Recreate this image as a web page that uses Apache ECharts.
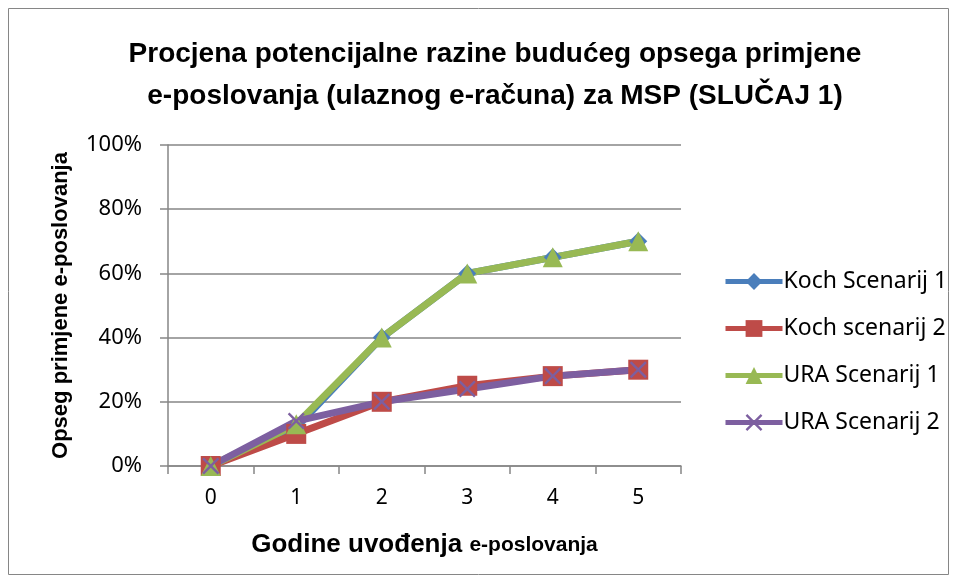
<!DOCTYPE html>
<html>
<head>
<meta charset="utf-8">
<script src="https://cdn.jsdelivr.net/npm/echarts@6/dist/echarts.min.js"></script>
<style>
html,body{margin:0;padding:0;background:#fff;}
#chart{width:956px;height:581px;}
</style>
</head>
<body>
<div id="chart"></div>
<script>
// Years since introduction of e-business
const years = ['0', '1', '2', '3', '4', '5'];
// Estimated share of e-business adoption (%)
const kochScenarij1 = [0, 12, 40, 60, 65, 70];
const kochScenarij2 = [0, 10, 20, 25, 28, 30];
const uraScenarij1 = [0, 13, 40, 60, 65, 70];
const uraScenarij2 = [0, 14, 20, 24, 28, 30];
const seriesNames = ['Koch Scenarij 1', 'Koch scenarij 2', 'URA Scenarij 1', 'URA Scenarij 2'];
const yTicks = [0, 20, 40, 60, 80, 100];

const colors = ['#4a7ebb', '#be4b48', '#98b954', '#7d5fa0'];
const crossPath = 'path://M0,2 L2,0 L10,8 L18,0 L20,2 L12,10 L20,18 L18,20 L10,12 L2,20 L0,18 L8,10 Z';

const chart = echarts.init(document.getElementById('chart'));

function lineSeries(name, data, color, symbol, size) {
  return {
    name: name,
    type: 'line',
    data: data,
    symbol: symbol,
    symbolSize: size,
    showAllSymbol: true,
    lineStyle: { color: color, width: 7 },
    itemStyle: { color: color, borderWidth: 0 },
    emphasis: { disabled: true },
    animation: false
  };
}

chart.setOption({
  backgroundColor: '#fff',
  color: colors,
  title: {
    text: 'Procjena potencijalne razine budućeg opsega primjene\ne-poslovanja (ulaznog e-računa) za MSP (SLUČAJ 1)',
    left: 490,
    textAlign: 'center',
    top: 28,
    textStyle: {
      fontFamily: 'Liberation Sans, Arial, sans-serif',
      fontWeight: 'bold',
      fontSize: 28,
      lineHeight: 42,
      color: '#000'
    }
  },
  graphic: [{
    type: 'rect',
    shape: { x: 8.5, y: 8.5, width: 940, height: 566 },
    style: { fill: 'none', stroke: '#868686', lineWidth: 1 },
    silent: true
  }],
  legend: {
    orient: 'vertical',
    left: 718,
    top: 265,
    itemGap: 24,
    itemWidth: 57,
    itemHeight: 21,
    lineStyle: { width: 5 },
    data: seriesNames,
    textStyle: { fontFamily: 'Noto Sans, Open Sans, sans-serif', fontSize: 23, color: '#000', padding: [0, 0, 0, -4] }
  },
  grid: { left: 168, right: 275, top: 145, bottom: 115 },
  xAxis: {
    type: 'category',
    data: years,
    boundaryGap: true,
    name: '{a|Godine uvođenja }{b|e-poslovanja}',
    nameLocation: 'middle',
    nameGap: 66,
    nameTextStyle: {
      rich: {
        a: { fontFamily: 'Liberation Sans, Arial, sans-serif', fontWeight: 'bold', fontSize: 26, color: '#000' },
        b: { fontFamily: 'Liberation Sans, Arial, sans-serif', fontWeight: 'bold', fontSize: 21, color: '#000' }
      }
    },
    axisLine: { lineStyle: { color: '#868686', width: 1.5 } },
    axisTick: { show: true, length: 8, alignWithLabel: false, lineStyle: { color: '#868686', width: 1.5 } },
    axisLabel: { fontFamily: 'Noto Sans, Open Sans, sans-serif', fontSize: 21, color: '#000', margin: 22 },
    splitLine: { show: false }
  },
  yAxis: {
    type: 'value',
    min: yTicks[0],
    max: yTicks[yTicks.length - 1],
    interval: 20,
    name: 'Opseg primjene e-poslovanja',
    nameLocation: 'middle',
    nameGap: 96,
    nameTextStyle: { fontFamily: 'Liberation Sans, Arial, sans-serif', fontWeight: 'bold', fontSize: 22, color: '#000' },
    axisLine: { show: true, lineStyle: { color: '#868686', width: 1.5 } },
    axisTick: { show: true, length: 8, inside: false, lineStyle: { color: '#868686', width: 1.5 } },
    axisLabel: { fontFamily: 'Noto Sans, Open Sans, sans-serif', fontSize: 22, color: '#000', margin: 26, formatter: v => v + '%' },
    splitLine: { lineStyle: { color: '#868686', width: 1.5 } }
  },
  series: [
    lineSeries(seriesNames[0], kochScenarij1, colors[0], 'diamond', 18),
    lineSeries(seriesNames[1], kochScenarij2, colors[1], 'rect', 20),
    lineSeries(seriesNames[2], uraScenarij1, colors[2], 'triangle', 20),
    lineSeries(seriesNames[3], uraScenarij2, colors[3], crossPath, 17)
  ]
});
</script>
</body>
</html>
